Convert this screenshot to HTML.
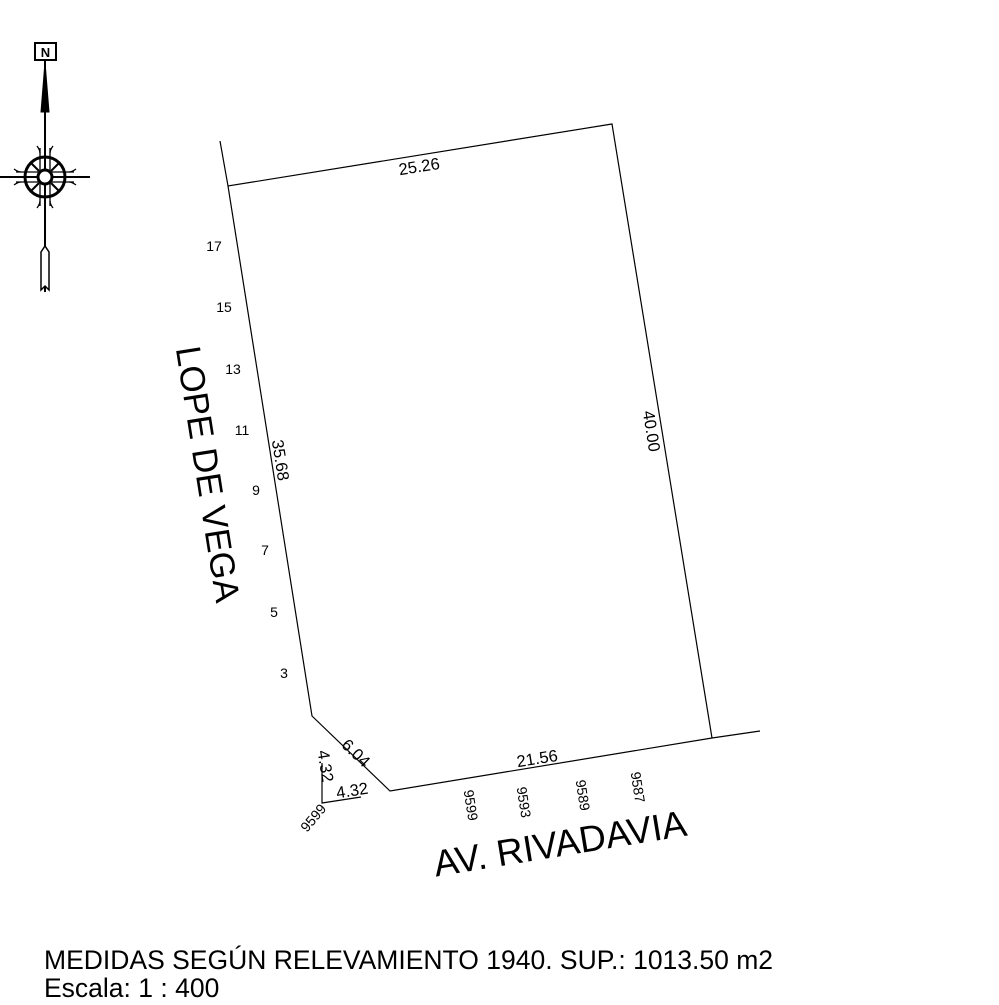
<!DOCTYPE html>
<html><head><meta charset="utf-8"><style>
html,body{margin:0;padding:0;background:#fff;}
svg{display:block;}
text{font-family:"Liberation Sans",sans-serif;fill:#000;}
</style></head><body>
<svg width="999" height="1005" viewBox="0 0 999 1005" xmlns="http://www.w3.org/2000/svg">
<g stroke="#000" stroke-width="1.2" fill="none">
<polyline points="220,141 228,186 612,124 712,738"/>
<polyline points="228,186 312,716 390,791 712,738 760,731"/>
<polyline points="322,763 322,803 361,797"/>
</g>
<!-- compass -->
<g stroke="#000" fill="none">
<rect x="35" y="43" width="21" height="17" stroke-width="2" fill="#fff"/>
<line x1="45" y1="60" x2="45" y2="292" stroke-width="2"/>
<polygon points="45,62 41,112 49,112" fill="#000" stroke-width="1"/>
<polygon points="41,252 45,246 49,252 49,290 45,286 41,290" fill="#fff" stroke-width="1.5"/>
<line x1="0" y1="177" x2="90" y2="177" stroke-width="2"/>
<circle cx="45" cy="177" r="20" stroke-width="3"/>
<line x1="31" y1="163" x2="59" y2="191" stroke-width="2"/>
<line x1="59" y1="163" x2="31" y2="191" stroke-width="2"/>
<circle cx="45" cy="177" r="7" stroke-width="3" fill="#fff"/>
<path d="M40,148 L40,170 M50,148 L50,170 M40,184 L40,206 M50,184 L50,206 M16,172 L38,172 M16,182 L38,182 M52,172 L74,172 M52,182 L74,182" stroke-width="1.3"/>
<path d="M37,146 Q40,150 40,153 M53,146 Q50,150 50,153 M37,208 Q40,204 40,201 M53,208 Q50,204 50,201 M14,169 Q18,172 21,172 M14,185 Q18,182 21,182 M76,169 Q72,172 69,172 M76,185 Q72,182 69,182" stroke-width="1.3"/>
</g>
<text x="45.5" y="57" font-family="Liberation Serif" font-weight="bold" font-size="13" text-anchor="middle">N</text>
<!-- labels -->
<g font-size="16.5" text-anchor="middle">
<text transform="translate(420,172) rotate(-9)">25.26</text>
<text transform="translate(646,432) rotate(81)">40.00</text>
<text transform="translate(275,461) rotate(81)">35.68</text>
<text transform="translate(352,757) rotate(44)">6.04</text>
<text transform="translate(538,764) rotate(-9)">21.56</text>
<text transform="translate(320,767) rotate(81)">4.32</text>
<text transform="translate(353,796) rotate(-9)">4.32</text>
</g>
<g font-size="14" text-anchor="middle">
<text transform="translate(466,806) rotate(81)">9599</text>
<text transform="translate(519,803) rotate(81)">9593</text>
<text transform="translate(578,796) rotate(81)">9589</text>
<text transform="translate(633,788) rotate(81)">9587</text>
<text transform="translate(317,821) rotate(-50)">9599</text>
<text x="214" y="251">17</text>
<text x="224" y="312">15</text>
<text x="233" y="374">13</text>
<text x="242" y="435">11</text>
<text x="256" y="495">9</text>
<text x="265" y="555">7</text>
<text x="274" y="617">5</text>
<text x="284" y="678">3</text>
</g>
<text transform="translate(196,476) rotate(81)" font-size="35" text-anchor="middle">LOPE DE VEGA</text>
<text transform="translate(562,856) rotate(-9.3)" font-size="37" text-anchor="middle">AV. RIVADAVIA</text>
<text x="44" y="969" font-size="26.5">MEDIDAS SEGÚN RELEVAMIENTO 1940. SUP.: 1013.50 m2</text>
<text x="44" y="997" font-size="26.5">Escala: 1 : 400</text>
</svg>
</body></html>
